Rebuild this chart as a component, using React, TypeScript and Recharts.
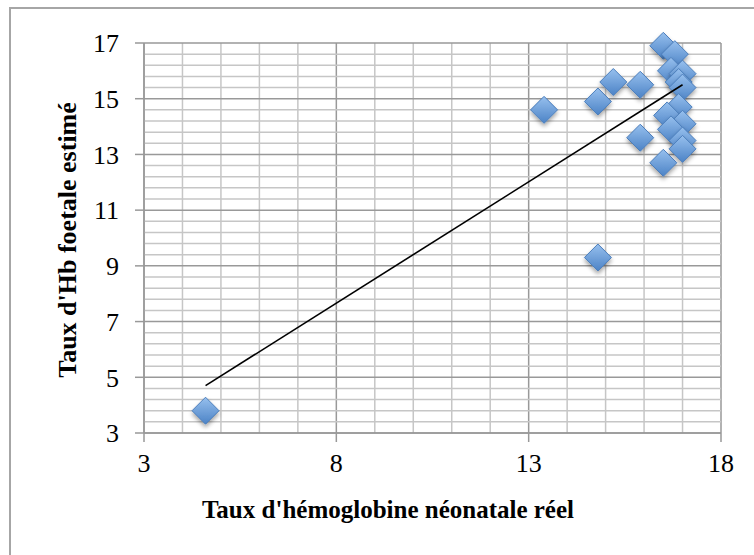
import { ReferenceLine, Scatter, ScatterChart, XAxis, YAxis } from 'recharts'

// valeurs (Hb réel, Hb foetale estimé)
const hbReel = [
  4.6, 13.4, 14.8, 14.8, 15.2, 15.9, 15.9, 16.5, 16.8, 16.7,
  17.0, 16.9, 17.0, 16.9, 16.6, 17.0, 16.7, 17.0, 17.0, 16.5,
]
const hbEstime = [
  3.8, 14.6, 14.9, 9.3, 15.6, 15.5, 13.6, 16.9, 16.6, 16.0,
  15.9, 15.6, 15.4, 14.7, 14.4, 14.1, 13.9, 13.5, 13.2, 12.7,
]
const trendX = [4.6, 17.0]
const trendY = [4.7, 15.5]
const xTicks = [3, 8, 13, 18]
const yTicks = [3, 5, 7, 9, 11, 13, 15, 17]
const xMinor = [3, 4, 5, 6, 7, 8, 9, 10, 11, 12, 13, 14, 15, 16, 17, 18]
const yMinor = [
  3, 3.4, 3.8, 4.2, 4.6, 5, 5.4, 5.8, 6.2, 6.6, 7, 7.4, 7.8, 8.2, 8.6, 9,
  9.4, 9.8, 10.2, 10.6, 11, 11.4, 11.8, 12.2, 12.6, 13, 13.4, 13.8, 14.2,
  14.6, 15, 15.4, 15.8, 16.2, 16.6, 17,
]

const points = hbReel.map((x, i) => ({ x, y: hbEstime[i] }))
const trend = trendX.map((x, i) => ({ x, y: trendY[i] }))

const FONT = '"Liberation Serif", "DejaVu Serif", serif'
const MINOR = '#c6c6c6'
const MAJOR = '#999999'

const Diamond = (props: any) => {
  const { cx, cy } = props
  if (cx == null || cy == null) return null
  const r = 13.5
  return (
    <g>
      <defs>
        <linearGradient id="dmGrad" x1="0" y1="0" x2="0" y2="1">
          <stop offset="0%" stopColor="#97c0ee" />
          <stop offset="100%" stopColor="#4c83c6" />
        </linearGradient>
        <filter id="dmShadow" x="-50%" y="-50%" width="200%" height="200%">
          <feDropShadow dx="0" dy="3" stdDeviation="2" floodColor="#000" floodOpacity="0.35" />
        </filter>
      </defs>
      <polygon
        points={`${cx},${cy - r} ${cx + r},${cy} ${cx},${cy + r} ${cx - r},${cy}`}
        fill="url(#dmGrad)"
        stroke="#4a7dbb"
        strokeWidth={1}
        filter="url(#dmShadow)"
      />
    </g>
  )
}

export default function App() {
  return (
    <div style={{ position: 'absolute', left: 0, top: 0, width: 754, height: 555, background: '#fff', overflow: 'hidden' }}>
      <div
        style={{
          position: 'absolute',
          left: 9,
          top: 7,
          width: 800,
          height: 600,
          borderLeft: '2px solid #a6a6a6',
          borderTop: '2px solid #a6a6a6',
        }}
      />
      <div style={{ position: 'absolute', left: 0, top: 0 }}>
        <ScatterChart width={754} height={555} margin={{ top: 43, right: 33, bottom: 82, left: 84 }}>
          {xMinor.map((v) => (
            <ReferenceLine key={'vx' + v} x={v} stroke={xTicks.includes(v) ? MAJOR : MINOR} strokeWidth={1.5} />
          ))}
          {yMinor.map((v) => (
            <ReferenceLine key={'hy' + v} y={v} stroke={yTicks.includes(v) ? MAJOR : MINOR} strokeWidth={1.5} />
          ))}
          <XAxis
            type="number"
            dataKey="x"
            domain={[3, 18]}
            ticks={xTicks}
            height={40}
            tickSize={9}
            tickMargin={12}
            stroke={MAJOR}
            strokeWidth={1.5}
            tick={{ fill: '#000', fontSize: 26, fontFamily: FONT }}
          />
          <YAxis
            type="number"
            dataKey="y"
            domain={[3, 17]}
            ticks={yTicks}
            width={60}
            tickSize={9}
            tickMargin={16}
            stroke={MAJOR}
            strokeWidth={1.5}
            tick={{ fill: '#000', fontSize: 26, fontFamily: FONT }}
          />
          <Scatter data={points} shape={<Diamond />} isAnimationActive={false} />
          <Scatter
            data={trend}
            line={{ stroke: '#000', strokeWidth: 1.6 }}
            shape={() => null}
            isAnimationActive={false}
          />
        </ScatterChart>
      </div>
      <div
        style={{
          position: 'absolute',
          left: 388,
          top: 510,
          transform: 'translate(-50%, -50%)',
          whiteSpace: 'nowrap',
          fontFamily: FONT,
          fontWeight: 'bold',
          fontSize: 25,
          color: '#000',
        }}
      >
        Taux d'hémoglobine néonatale réel
      </div>
      <div
        style={{
          position: 'absolute',
          left: 68,
          top: 240,
          transform: 'translate(-50%, -50%) rotate(-90deg)',
          whiteSpace: 'nowrap',
          fontFamily: FONT,
          fontWeight: 'bold',
          fontSize: 26,
          color: '#000',
        }}
      >
        Taux d'Hb foetale estimé
      </div>
    </div>
  )
}
